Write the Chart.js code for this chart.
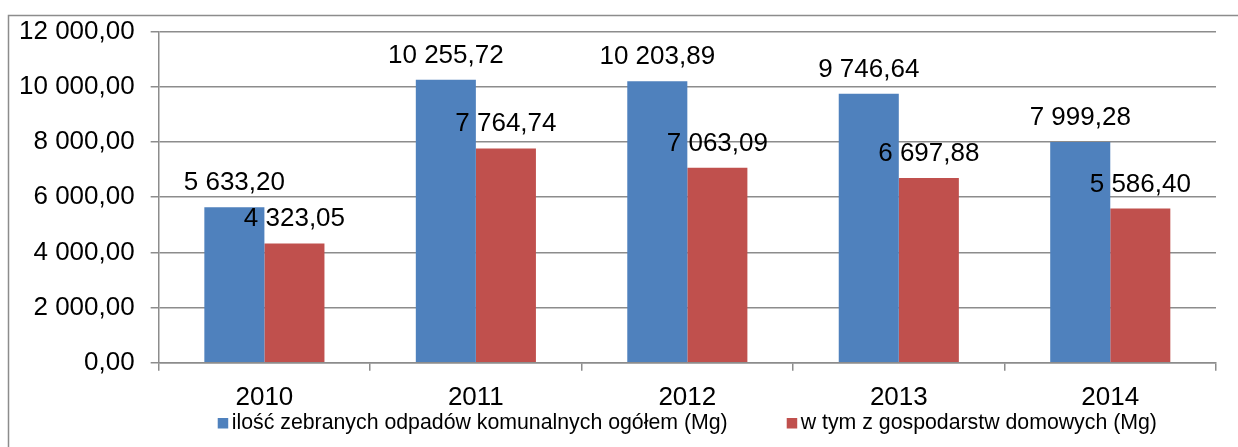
<!DOCTYPE html>
<html>
<head>
<meta charset="utf-8">
<script src="https://cdn.jsdelivr.net/npm/chart.js@4"></script>
<style>
  body { margin: 0; background: #fff; }
  canvas { display: block; }
</style>
</head>
<body>
<canvas id="myChart" width="1238" height="447"></canvas>
<script>
// dane z wykresu
var lata = ["2010", "2011", "2012", "2013", "2014"];
var ogolem = [5633.20, 10255.72, 10203.89, 9746.64, 7999.28];
var gospodarstwa = [4323.05, 7764.74, 7063.09, 6697.88, 5586.40];
var etykietyY = ["0,00", "2 000,00", "4 000,00", "6 000,00", "8 000,00", "10 000,00", "12 000,00"];
var nazwy = ["ilość zebranych odpadów komunalnych ogółem (Mg)", "w tym z gospodarstw domowych (Mg)"];

var niebieski = "#4F81BD";
var czerwony = "#C0504D";
var szary = "#8c8c8c";
var czcionka = "'Liberation Sans', Arial, sans-serif";

// 10255.72 -> "10 255,72"
function formatuj(v)
{
    var s = v.toFixed(2).split(".");
    var cal = s[0].replace(/\B(?=(\d{3})+(?!\d))/g, " ");
    return cal + "," + s[1];
}

var ramka = {
    id: "ramka",
    beforeDraw: function(chart) {
        var ctx = chart.ctx;
        ctx.save();
        ctx.fillStyle = "#fff";
        ctx.fillRect(0, 0, chart.width, chart.height);
        ctx.strokeStyle = szary;
        ctx.lineWidth = 1.5;
        ctx.strokeRect(8.5, 15.5, 1300, 500);
        ctx.restore();
    }
};

var etykiety = {
    id: "etykiety",
    afterDatasetsDraw: function(chart) {
        var ctx = chart.ctx;
        ctx.save();
        ctx.font = "26px " + czcionka;
        ctx.fillStyle = "#000";
        ctx.textAlign = "center";
        ctx.textBaseline = "alphabetic";
        chart.data.datasets.forEach(function(ds, i) {
            chart.getDatasetMeta(i).data.forEach(function(bar, j) {
                ctx.fillText(formatuj(ds.data[j]), bar.x, bar.y - 17);
            });
        });
        ctx.restore();
    }
};

var legenda = {
    id: "legenda",
    afterDraw: function(chart) {
        var ctx = chart.ctx;
        ctx.save();
        ctx.font = "21.3px 'Liberation Sans Narrow', 'Arial Narrow', " + czcionka;
        ctx.textBaseline = "middle";
        ctx.textAlign = "left";
        var ds = chart.data.datasets;
        var szer = 0;
        ds.forEach(function(d, i) {
            szer += 14 + ctx.measureText(d.label).width;
            if (i > 0) szer += 59;
        });
        var x = (chart.chartArea.left + chart.chartArea.right) / 2 - szer / 2;
        var y = 423;
        ds.forEach(function(d) {
            ctx.fillStyle = d.backgroundColor;
            ctx.fillRect(x, y - 5, 10.5, 10.5);
            ctx.fillStyle = "#000";
            ctx.fillText(d.label, x + 14, y);
            x += 14 + ctx.measureText(d.label).width + 59;
        });
        ctx.restore();
    }
};

var ctx = document.getElementById("myChart").getContext("2d");
var myChart = new Chart(ctx, {
    type: "bar",
    data: {
        labels: lata,
        datasets: [{
            label: nazwy[0],
            data: ogolem,
            backgroundColor: niebieski,
            borderWidth: 0
        }, {
            label: nazwy[1],
            data: gospodarstwa,
            backgroundColor: czerwony,
            borderWidth: 0
        }]
    },
    options: {
        responsive: false,
        animation: false,
        devicePixelRatio: 1,
        layout: { padding: { left: 3, right: 22, top: 23, bottom: 23 } },
        datasets: { bar: { barPercentage: 1, categoryPercentage: 0.568 } },
        plugins: {
            legend: { display: false },
            tooltip: { enabled: false }
        },
        scales: {
            x: {
                grid: {
                    offset: true,
                    drawOnChartArea: false,
                    drawTicks: true,
                    tickLength: 8,
                    color: szary,
                    lineWidth: 1.5
                },
                border: { display: true, color: szary, width: 1.5 },
                ticks: {
                    color: "#000",
                    padding: 11,
                    font: { family: czcionka, size: 26 }
                }
            },
            y: {
                min: 0,
                max: 12000,
                grid: {
                    color: szary,
                    lineWidth: 1.5,
                    tickLength: 8
                },
                border: { display: true, color: szary, width: 1.5 },
                ticks: {
                    stepSize: 2000,
                    color: "#000",
                    padding: 16,
                    font: { family: czcionka, size: 26 },
                    callback: function(value, index) { return etykietyY[index]; }
                }
            }
        }
    },
    plugins: [ramka, etykiety, legenda]
});
</script>
</body>
</html>
